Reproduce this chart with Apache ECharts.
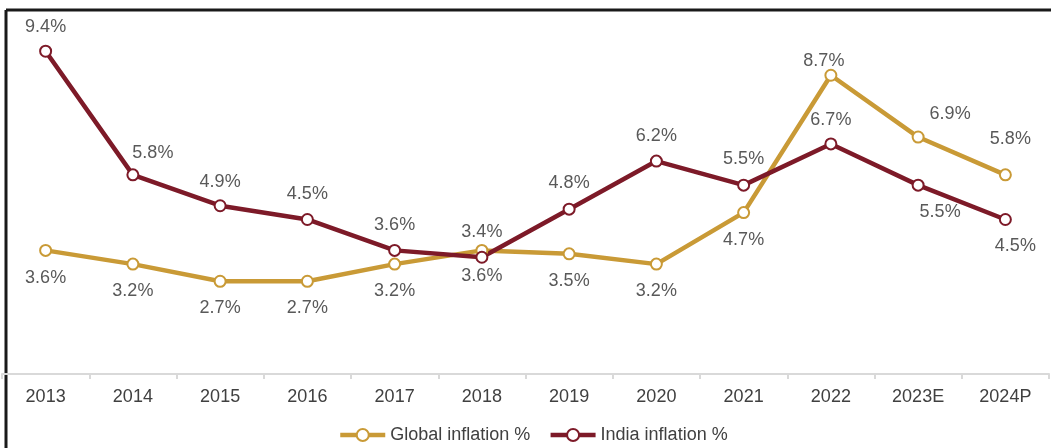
<!DOCTYPE html>
<html><head><meta charset="utf-8">
<script src="https://cdn.jsdelivr.net/npm/echarts@6/dist/echarts.min.js"></script>
<style>html,body{margin:0;padding:0;background:#fff}#c{width:1051px;height:448px}</style>
</head><body><div id="c"></div>
<script>
const categories = ['2013','2014','2015','2016','2017','2018','2019','2020','2021','2022','2023E','2024P'];
const globalInflation = [3.6, 3.2, 2.7, 2.7, 3.2, 3.6, 3.5, 3.2, 4.7, 8.7, 6.9, 5.8];
const indiaInflation = [9.4, 5.8, 4.9, 4.5, 3.6, 3.4, 4.8, 6.2, 5.5, 6.7, 5.5, 4.5];

// label placement (style only): [dx, dy] of label centre relative to the point
const globalLabelOffsets = [[0,28],[0,27],[0,27],[0,27],[0,27],[0,26],[0,27],[0,27],[0,27],[-7,-14],[32,-23],[5,-36]];
const indiaLabelOffsets = [[0,-24],[20,-22],[0,-24],[0,-25],[0,-25],[0,-25],[0,-26],[0,-25],[0,-26],[0,-24],[22,27],[10,27]];

const font = 'Liberation Sans, Arial, sans-serif';
const chart = echarts.init(document.getElementById('c'));
function mk(vals, offs) {
  return vals.map((v, i) => ({ value: v, label: { position: 'inside', offset: offs[i] } }));
}
const lblStyle = { show: true, formatter: p => p.value.toFixed(1) + '%', fontSize: 18, color: '#595959', fontFamily: font, align: 'center', verticalAlign: 'middle' };
chart.setOption({
  animation: false,
  grid: { left: 2, right: 2, top: 10, bottom: 74, containLabel: false },
  legend: {
    top: 421, left: 333, itemWidth: 45, itemHeight: 15, itemGap: 18,
    lineStyle: { width: 4.5 },
    textStyle: { fontSize: 18, color: '#404040', fontFamily: font }
  },
  xAxis: {
    type: 'category', data: categories, boundaryGap: true,
    axisLine: { lineStyle: { color: '#d9d9d9', width: 2 } },
    axisTick: { show: true, lineStyle: { color: '#d9d9d9', width: 2 }, length: 5 },
    axisLabel: { fontSize: 18, color: '#404040', fontFamily: font, margin: 14 }
  },
  yAxis: { type: 'value', min: 0, max: 10.6, show: false, splitLine: { show: false } },
  series: [
    { name: 'Global inflation %', type: 'line', data: mk(globalInflation, globalLabelOffsets),
      symbol: 'circle', symbolSize: 11, lineStyle: { color: '#C99A36', width: 4.5 },
      itemStyle: { color: '#fff', borderColor: '#C99A36', borderWidth: 2 },
      label: lblStyle },
    { name: 'India inflation %', type: 'line', data: mk(indiaInflation, indiaLabelOffsets),
      symbol: 'circle', symbolSize: 11, lineStyle: { color: '#7D1A28', width: 4.5 },
      itemStyle: { color: '#fff', borderColor: '#7D1A28', borderWidth: 2 },
      label: lblStyle }
  ],
  graphic: [
    { type: 'line', shape: { x1: 6, y1: 10, x2: 1051, y2: 10 }, style: { stroke: '#1a1a1a', lineWidth: 3 } },
    { type: 'line', shape: { x1: 6, y1: 10, x2: 6, y2: 448 }, style: { stroke: '#1a1a1a', lineWidth: 3 } }
  ]
});
</script></body></html>
